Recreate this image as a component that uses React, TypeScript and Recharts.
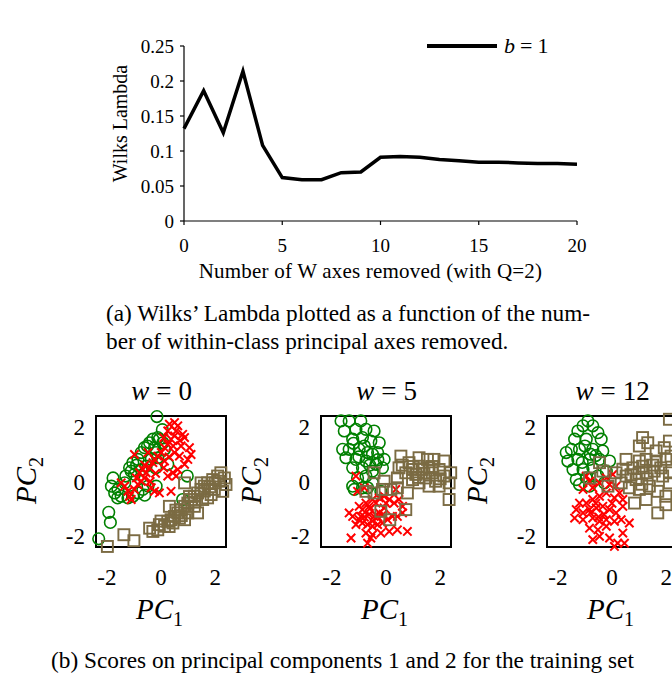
import React from "react";
import {
  Legend,
  Line,
  LineChart,
  ReferenceArea,
  Scatter,
  ScatterChart,
  XAxis,
  YAxis,
} from "recharts";

// Wilks' Lambda vs number of W axes removed
const axesRemoved = [0, 1, 2, 3, 4, 5, 6, 7, 8, 9, 10, 11, 12, 13, 14, 15, 16, 17, 18, 19, 20];
const wilksLambda = [
  0.132, 0.186, 0.126, 0.214, 0.108, 0.062, 0.059, 0.059, 0.069, 0.07, 0.091,
  0.092, 0.091, 0.088, 0.086, 0.084, 0.084, 0.083, 0.082, 0.082, 0.081,
];
const lambdaTicks = [0, 0.05, 0.1, 0.15, 0.2, 0.25];
const removedTicks = [0, 5, 10, 15, 20];

const pcTicks = [-2, 0, 2];

// PC scores, w = 0 : [pc1, pc2]
const green0 = [
  [-0.15, 2.38], [-2.3, -2.1], [-1.93, -1.13], [-1.87, -1.5], [-1.77, 0.13], [-1.83, -0.17],
  [-1.71, -0.42], [-1.59, -0.29], [-1.47, -0.54], [-1.22, -0.6], [-1.04, -0.54], [-0.85, -0.42],
  [-0.67, -0.29], [-1.16, 0.5], [-1.04, 0.69], [-0.85, 0.81], [-0.73, 1.06], [-0.61, 1.24],
  [-0.42, 1.42], [-0.3, 1.55], [-0.12, 1.61], [-0.24, 1.24], [-0.18, 1.06], [-0.12, 0.87],
  [-0.06, 1.55], [0.07, 1.42], [0.13, 1.18], [0.25, 0.63], [-0.18, -0.17], [-0.48, -0.17],
  [-1.34, -0.05], [-1.1, 0.38], [-0.98, 0.26], [-0.73, 0.44], [-0.55, 0.56], [-0.36, 0.81],
  [0.97, 0.2], [0.8, -0.66], [-0.5, 1.3], [-0.9, 0.6], [-1.3, 0.2], [-0.2, 0.5],
  [-0.6, -0.5], [-1.6, -0.6], [0.05, 1.9],
];
const red0 = [
  [-1.34, -0.17], [-1.22, -0.36], [-1.16, -0.54], [-1.1, -0.66], [-1.47, -0.05], [-0.98, -0.29],
  [-0.85, -0.11], [-0.73, 0.01], [-0.61, 0.13], [-0.91, 0.13], [-0.79, 0.32], [-0.67, 0.44],
  [-0.55, 0.32], [-0.42, 0.5], [-0.3, 0.69], [-0.24, 0.81], [-0.12, 0.93], [0.01, 1.06],
  [0.13, 1.24], [0.25, 1.36], [0.37, 1.55], [0.5, 1.67], [0.56, 1.85], [0.62, 2.04],
  [0.5, 2.16], [0.31, 2.1], [0.25, 1.85], [0.8, 1.73], [0.87, 1.61], [0.74, 1.3],
  [1.05, 1.24], [1.11, 0.99], [0.99, 0.81], [0.87, 0.63], [0.68, 0.93], [0.5, 1.06],
  [0.44, 0.32], [0.56, 0.2], [0.37, -0.36], [-0.06, -0.42], [-0.24, -0.36], [-0.36, -0.23],
  [-0.98, 0.99], [-0.48, 1.06], [0.13, 0.75], [0.62, 0.44], [0.25, 0.2], [-0.6, 0.6],
  [-0.2, 0.3], [0.1, 0.5], [-0.4, 0.0], [0.3, 0.9], [0.45, 1.3], [0.1, 1.6], [0.7, 1.5],
];
const brown0 = [
  [-1.98, -2.38], [-1.37, -1.95], [-1.0, -2.17], [-0.42, -1.71], [-0.3, -1.83], [-0.12, -1.77],
  [-0.06, -1.58], [0.13, -1.64], [0.25, -1.46], [0.37, -1.4], [0.5, -1.28], [0.62, -1.15],
  [0.74, -1.03], [0.87, -0.91], [0.99, -0.79], [1.11, -0.66], [1.23, -0.54], [1.35, -0.42],
  [1.48, -0.29], [1.6, -0.17], [1.72, -0.05], [1.91, 0.07], [2.09, 0.2], [2.21, 0.32],
  [2.34, 0.13], [2.4, -0.11], [2.28, -0.36], [1.97, -0.29], [1.85, -0.48], [1.54, -0.66],
  [1.23, -0.91], [0.99, -1.15], [0.68, -1.34], [0.44, -1.52], [0.31, -0.91], [0.87, -0.05],
  [1.48, -0.05], [2.15, 0.01], [0.87, -1.4], [1.35, -1.15], [1.72, -0.6], [0.0, -1.45],
  [0.55, -1.05], [1.05, -0.55], [1.6, -0.35], [2.0, -0.05], [0.3, -1.65], [0.75, -1.25],
  [1.25, -0.75], [1.8, -0.2],
];

// w = 5
const green5 = [
  [-1.66, 2.22], [-1.36, 2.22], [-0.93, 2.22], [-1.11, 1.91], [-0.74, 1.91], [-0.44, 1.85],
  [-1.54, 1.85], [-1.23, 1.55], [-0.87, 1.61], [-0.56, 1.48], [-0.25, 1.42], [-1.36, 1.18],
  [-1.6, 1.18], [-0.99, 1.18], [-0.68, 1.06], [-0.31, 1.06], [-0.07, 0.81], [-1.48, 0.87],
  [-1.11, 0.81], [-0.74, 0.75], [-0.37, 0.63], [-1.23, 0.5], [-0.87, 0.5], [-0.5, 0.38],
  [-0.13, 0.5], [-1.05, 0.13], [-0.74, 0.2], [-1.23, -0.17], [-1.17, -0.29], [-0.87, -0.23],
  [-0.5, -0.05], [-0.19, -0.36], [-0.68, -0.23], [-0.8, 1.3], [-0.5, 1.0], [-1.0, 0.9],
  [-0.6, 0.6], [-1.2, 1.4], [-0.3, 0.8],
];
const red5 = [
  [-1.11, 0.2], [-1.36, -1.15], [-1.23, -1.28], [-0.99, -0.91], [-0.87, -1.03], [-0.74, -0.79],
  [-0.62, -0.91], [-0.5, -0.66], [-0.37, -0.79], [-0.25, -0.6], [-0.07, -0.54], [0.12, -0.66],
  [0.3, -0.79], [0.48, -0.66], [0.61, -0.91], [0.61, -1.15], [0.42, -1.28], [0.24, -1.28],
  [0.06, -1.4], [-0.13, -1.52], [-0.31, -1.58], [-0.5, -1.64], [-0.68, -1.58], [-0.87, -1.52],
  [-0.99, -1.4], [-1.11, -1.58], [-0.74, -1.89], [-0.5, -1.95], [-0.19, -1.89], [0.12, -1.83],
  [0.42, -1.77], [0.79, -1.83], [-1.29, -2.07], [-0.68, -2.26], [-0.56, -2.07], [-0.93, -1.28],
  [-0.44, -1.28], [-0.25, -1.15], [-0.07, -0.97], [-0.62, -1.21], [-1.05, -0.36], [-0.8, -0.23],
  [0.36, -0.29], [-0.6, -1.0], [-0.3, -1.3], [-0.1, -1.2], [-0.8, -1.3], [-0.5, -1.45],
  [0.0, -0.8],
];
const brown5 = [
  [0.55, 0.93], [0.85, 0.69], [1.22, 0.87], [1.53, 0.81], [1.77, 0.81], [2.14, 0.75],
  [2.39, 0.32], [2.33, -0.05], [1.96, -0.17], [1.59, -0.17], [1.22, -0.05], [0.98, 0.07],
  [0.73, 0.32], [0.48, 0.5], [0.42, 0.13], [0.98, 0.44], [1.34, 0.44], [1.71, 0.32],
  [1.96, 0.44], [2.14, 0.2], [1.47, 0.13], [1.83, 0.01], [1.1, 0.26], [2.33, -0.66],
  [-0.44, 0.32], [-0.07, 0.01], [0.42, -0.23], [0.79, -0.42], [-0.74, -0.36], [-0.44, -0.42],
  [-0.13, -0.29], [0.18, -0.29], [0.73, -1.03], [-0.19, -1.09], [0.14, -1.4], [1.22, 0.56],
  [1.59, 0.5], [1.0, 0.55], [1.4, 0.3], [1.7, 0.55], [0.6, 0.6], [1.2, 0.15], [2.0, 0.1],
];

// w = 12
const green12 = [
  [-0.89, 2.22], [-1.07, 2.04], [-0.71, 2.04], [-1.26, 1.85], [-0.52, 1.79], [-1.38, 1.55],
  [-0.95, 1.55], [-0.4, 1.55], [-1.5, 1.18], [-1.69, 1.06], [-1.2, 1.18], [-0.71, 1.18],
  [-0.34, 1.12], [-1.63, 0.75], [-1.26, 0.81], [-0.83, 0.81], [-0.46, 0.81], [-0.09, 0.75],
  [-1.44, 0.44], [-1.07, 0.44], [-0.71, 0.5], [-0.21, 0.38], [-1.32, 0.07], [-0.95, 0.13],
  [-0.52, 0.2], [-1.2, -0.11], [-0.83, -0.17], [-0.28, -0.05], [-1.0, 1.3], [-0.8, 1.0],
  [-1.1, 0.7], [-0.6, 0.95],
];
const red12 = [
  [-0.95, 0.2], [-0.83, 0.01], [-1.07, -0.29], [-0.71, -0.23], [-0.46, -0.05], [-0.21, 0.13],
  [0.03, 0.26], [-0.09, -0.11], [0.15, -0.17], [0.28, -0.42], [0.4, -0.66], [0.09, -0.6],
  [-0.21, -0.42], [-0.46, -0.54], [-0.71, -0.66], [-0.95, -0.79], [-1.2, -0.79], [-1.32, -1.03],
  [-1.07, -1.15], [-0.83, -1.03], [-0.58, -0.97], [-0.34, -0.91], [-0.09, -1.03], [0.15, -1.15],
  [0.4, -0.91], [0.34, -1.4], [0.09, -1.46], [-0.21, -1.4], [-0.46, -1.46], [-0.71, -1.34],
  [-1.07, -1.4], [-1.38, -1.34], [-0.83, -1.71], [-0.52, -1.77], [-0.21, -1.64], [-0.71, -2.13],
  [-0.46, -2.01], [-0.09, -2.07], [0.21, -2.26], [0.09, -2.38], [0.46, -2.26], [0.4, -1.89],
  [0.64, -1.52], [-0.6, -0.8], [-0.3, -1.2], [-0.8, -1.15], [-0.5, -1.3], [0.0, -0.8],
];
const brown12 = [
  [2.12, 2.28], [1.13, 1.61], [1.01, 1.3], [1.32, 1.42], [1.63, 1.12], [1.93, 1.24],
  [2.12, 1.48], [-0.46, 0.69], [-0.34, 0.38], [-0.83, 0.13], [-0.15, -0.17], [0.15, 0.32],
  [0.52, 0.81], [0.77, 0.5], [1.01, 0.75], [1.26, 0.81], [1.63, 0.75], [1.99, 0.81],
  [0.52, 0.2], [0.89, 0.07], [1.26, 0.32], [1.56, 0.38], [1.87, 0.2], [2.12, -0.05],
  [0.64, -0.23], [1.01, -0.29], [1.38, -0.17], [1.69, -0.36], [1.99, -0.54], [0.83, -0.79],
  [1.26, -0.66], [1.69, -1.15], [1.99, -0.85], [0.34, -0.05], [1.13, 0.56], [2.12, 0.32],
  [2.18, 0.93], [1.0, 0.3], [1.3, 0.1], [0.7, 0.25], [1.5, 0.6], [1.1, -0.1], [1.8, 0.5],
  [0.4, 0.45],
];

const panels = [
  { w: "0", left: 96, green: green0, red: red0, brown: brown0 },
  { w: "5", left: 321, green: green5, red: red5, brown: brown5 },
  { w: "12", left: 547, green: green12, red: red12, brown: brown12 },
];

const SERIF = '"Liberation Serif", "Times New Roman", serif';
const GREEN = "#008000";
const RED = "#ff0000";
const BROWN = "#7b6b43";

const toPoints = (arr: number[][]) => arr.map(([x, y]) => ({ x, y }));

const lineData = axesRemoved.map((n, i) => ({ n, lambda: wilksLambda[i] }));

const Circle = (p: any) => (
  <circle cx={p.cx} cy={p.cy} r={5.8} fill="none" stroke={GREEN} strokeWidth={1.6} />
);
const Cross = (p: any) => (
  <path
    d={`M${p.cx - 4.2},${p.cy - 4.2}L${p.cx + 4.2},${p.cy + 4.2}M${p.cx - 4.2},${p.cy + 4.2}L${p.cx + 4.2},${p.cy - 4.2}`}
    stroke={RED}
    strokeWidth={2}
    fill="none"
  />
);
const Square = (p: any) => (
  <rect x={p.cx - 5.5} y={p.cy - 5.5} width={11} height={11} fill="none" stroke={BROWN} strokeWidth={1.9} />
);

const LegendBox = () => (
  <div style={{ display: "flex", alignItems: "center", fontFamily: SERIF, fontSize: 22 }}>
    <span style={{ display: "inline-block", width: 70, height: 4.5, background: "#000" }} />
    <span style={{ marginLeft: 7 }}>
      <i>b</i>
      <span style={{ margin: "0 5px" }}>=</span>1
    </span>
  </div>
);

function PcPanel({ w, left, green, red, brown }: any) {
  const tickStyle = { fill: "#000", fontSize: 23, fontFamily: SERIF };
  return (
    <>
      <div
        style={{
          position: "absolute",
          left: left,
          width: 131,
          top: 376,
          textAlign: "center",
          fontFamily: SERIF,
          fontSize: 27,
        }}
      >
        <i>w</i>
        <span style={{ margin: "0 7px" }}>=</span>
        {w}
      </div>
      <div style={{ position: "absolute", left: left - 60, top: 406 }}>
        <ScatterChart width={210} height={191} margin={{ top: 10, right: 20, bottom: 0, left: 0 }}>
          <XAxis
            type="number"
            dataKey="x"
            domain={[-2.4, 2.4]}
            ticks={pcTicks}
            axisLine={false}
            tickLine={false}
            tickSize={0}
            tickMargin={22}
            height={50}
            tick={tickStyle}
          />
          <YAxis
            type="number"
            dataKey="y"
            domain={[-2.4, 2.4]}
            ticks={pcTicks}
            axisLine={false}
            tickLine={false}
            tickSize={0}
            tickMargin={11}
            width={60}
            tick={tickStyle}
          />
          <Scatter data={toPoints(green)} shape={Circle} isAnimationActive={false} />
          <Scatter data={toPoints(red)} shape={Cross} isAnimationActive={false} />
          <Scatter data={toPoints(brown)} shape={Square} isAnimationActive={false} />
          <ReferenceArea
            x1={-2.4}
            x2={2.4}
            y1={-2.4}
            y2={2.4}
            fill="none"
            fillOpacity={0}
            stroke="#000"
            strokeWidth={2}
          />
        </ScatterChart>
      </div>
      <div
        style={{
          position: "absolute",
          left: left - 2,
          width: 131,
          top: 593,
          textAlign: "center",
          fontFamily: SERIF,
          fontSize: 29,
        }}
      >
        <i>PC</i>
        <span style={{ fontSize: 20, position: "relative", top: 7 }}>1</span>
      </div>
      <div
        style={{
          position: "absolute",
          left: left - 120,
          width: 100,
          top: 464,
          textAlign: "center",
          fontFamily: SERIF,
          fontSize: 29,
          transform: "rotate(-90deg)",
        }}
      >
        <i>PC</i>
        <span style={{ fontSize: 20, position: "relative", top: 7 }}>2</span>
      </div>
    </>
  );
}

export default function App() {
  const tickStyle = { fill: "#000", fontSize: 19, fontFamily: SERIF };
  return (
    <div
      style={{
        position: "absolute",
        left: 0,
        top: 0,
        width: 672,
        height: 674,
        overflow: "hidden",
        background: "#fff",
      }}
    >
      <div style={{ position: "absolute", left: 0, top: 0 }}>
        <LineChart
          width={600}
          height={290}
          data={lineData}
          margin={{ top: 20, right: 23, bottom: 0, left: 0 }}
        >
          <XAxis
            type="number"
            dataKey="n"
            domain={[0, 20]}
            ticks={removedTicks}
            stroke="#000"
            strokeWidth={1.2}
            tickSize={4}
            tickMargin={14}
            height={69}
            tick={tickStyle}
            label={{
              value: "Number of W axes removed (with Q=2)",
              position: "insideBottom",
              offset: 12,
              dx: -10,
              style: { fill: "#000", fontSize: 21, fontFamily: SERIF, letterSpacing: 0.2 },
            }}
          />
          <YAxis
            type="number"
            domain={[0, 0.25]}
            ticks={lambdaTicks}
            stroke="#000"
            strokeWidth={1.2}
            tickSize={4}
            tickMargin={6}
            width={184}
            tick={tickStyle}
            label={{
              value: "Wilks Lambda",
              angle: -90,
              position: "center",
              dx: 28,
              dy: -10,
              style: { fill: "#000", fontSize: 20, fontFamily: SERIF, textAnchor: "middle" },
            }}
          />
          <Legend
            verticalAlign="top"
            align="left"
            content={<LegendBox />}
            wrapperStyle={{ left: 427, top: 33, width: 150 }}
          />
          <Line
            dataKey="lambda"
            type="linear"
            stroke="#000"
            strokeWidth={3.5}
            dot={false}
            isAnimationActive={false}
          />
        </LineChart>
      </div>

      <div
        style={{
          position: "absolute",
          left: 106,
          top: 299,
          width: 560,
          whiteSpace: "nowrap",
          fontFamily: SERIF,
          fontSize: 23.3,
          lineHeight: "28px",
        }}
      >
        (a) Wilks’ Lambda plotted as a function of the num-
        <br />
        ber of within-class principal axes removed.
      </div>

      {panels.map((p) => (
        <PcPanel key={p.w} {...p} />
      ))}

      <div
        style={{
          position: "absolute",
          left: 51,
          top: 646,
          whiteSpace: "nowrap",
          fontFamily: SERIF,
          fontSize: 23.3,
          lineHeight: "28px",
        }}
      >
        (b) Scores on principal components 1 and 2 for the training set
      </div>
    </div>
  );
}
